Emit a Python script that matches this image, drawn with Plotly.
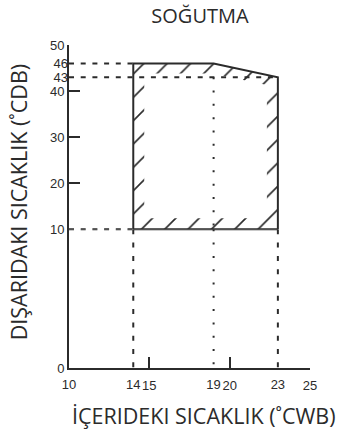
import numpy as np
import plotly.graph_objects as go

# ---------------- data ----------------
envelope_x = [14, 14, 19, 23, 23]          # indoor wet-bulb (°CWB)
envelope_y = [10, 46, 46, 43, 10]          # outdoor dry-bulb (°CDB)
x_range = [10, 25]
y_low_range = [0, 10]
y_high_range = [10, 50]
x_tick_vals = [15, 20, 25]                 # ticked values on x
x_label_vals = [10, 14, 19, 23]            # labelled-only values on x
y_low_labels = [0]
y_tick_vals = [10, 20, 30, 40, 50]
y_label_vals = [43, 46]
dash_h_y = [46, 43, 10]                    # horizontal reference levels
dash_h_x_end = [14, 23, 14]
dash_v_x = [14, 23]                        # vertical dashed refs (0..10)
dot_v_x = 19                               # dotted vertical ref
dot_v_top = 43

title_text = "SOĞUTMA"
x_title = "İÇERIDEKI SICAKLIK (˚CWB)"
y_title = "DIŞARIDAKI SICAKLIK (˚CDB)"

# ---------------- layout geometry ----------------
W, H = 340, 441
L, R, T, B = 68.6, 30, 44.7, 73.3
PW, PH = W - L - R, H - T - B
split = 138.7 / PH
INK = "#2b2b2b"
TITLE_FONT = dict(family="Open Sans, Noto Sans, sans-serif", size=21.5, color=INK)

up_h = PH * (1 - split)
def to_px(x, y):
    return ((x - x_range[0]) / (x_range[1] - x_range[0]) * PW,
            (y_high_range[1] - y) / (y_high_range[1] - y_high_range[0]) * up_h)
def to_data(px, py):
    return (x_range[0] + px / PW * (x_range[1] - x_range[0]),
            y_high_range[1] - py / up_h * (y_high_range[1] - y_high_range[0]))

def inset(pts, t):
    pts = np.array(pts, float)
    n = len(pts)
    c = pts.mean(axis=0)
    lines = []
    for i in range(n):
        a, b = pts[i], pts[(i + 1) % n]
        d = (b - a) / np.linalg.norm(b - a)
        nrm = np.array([-d[1], d[0]])
        if np.dot(c - (a + b) / 2, nrm) < 0:
            nrm = -nrm
        lines.append((a + nrm * t[i], d))
    out = []
    for i in range(n):
        p1, d1 = lines[i - 1]
        p2, d2 = lines[i]
        A = np.array([d1, -d2]).T
        s, _ = np.linalg.solve(A, p2 - p1)
        out.append(p1 + s * d1)
    return out

outer_px = [to_px(x, y) for x, y in zip(envelope_x, envelope_y)]
inner_px = inset(outer_px, [11, 10, 10, 11, 11])
inner = [to_data(*p) for p in inner_px]
ring_x = envelope_x + [envelope_x[0]] + [inner[0][0]] + [p[0] for p in inner[::-1]]
ring_y = envelope_y + [envelope_y[0]] + [inner[0][1]] + [p[1] for p in inner[::-1]]

fig = go.Figure()

# hatched border band
fig.add_trace(go.Scatter(
    x=ring_x, y=ring_y, xaxis="x", yaxis="y2", mode="none", fill="toself",
    fillcolor="rgba(0,0,0,0)",
    fillpattern=dict(shape="/", size=16.5, solidity=0.1, fgcolor=INK,
                     bgcolor="rgba(0,0,0,0)", fillmode="replace"),
    hoverinfo="skip", showlegend=False))

def seg(x, y, yaxis, width, dash=None):
    fig.add_trace(go.Scatter(
        x=x, y=y, xaxis="x", yaxis=yaxis, mode="lines",
        line=dict(color=INK, width=width, dash=dash),
        hoverinfo="skip", showlegend=False))

# dashed horizontal references (the 10-level one sits on the panel seam,
# so it is drawn in both panels to keep its full width)
for yv, xe in zip(dash_h_y, dash_h_x_end):
    seg([x_range[0], xe], [yv, yv], "y2", 2, "5px,6.7px")
    if yv == y_low_range[1]:
        seg([x_range[0], xe], [yv, yv], "y", 2, "5px,6.7px")

# dashed vertical references below the envelope
for xv in dash_v_x:
    seg([xv, xv], [y_low_range[1], y_low_range[0]], "y", 2, "5px,8.3px")

# dotted vertical reference
seg([dot_v_x, dot_v_x], [dot_v_top, y_high_range[0]], "y2", 2, "2px,11.3px")
seg([dot_v_x, dot_v_x], [y_low_range[1], y_low_range[0]], "y", 2, "2px,11.3px")

# envelope outline (+ its bottom edge repeated in the lower panel)
seg(envelope_x + [envelope_x[0]], envelope_y + [envelope_y[0]], "y2", 2)
seg([envelope_x[-1], envelope_x[0]], [envelope_y[-1], envelope_y[0]], "y", 2)

# empty traces so the label-only overlay axes are drawn
fig.add_trace(go.Scatter(x=[], y=[], xaxis="x2", yaxis="y", showlegend=False))
fig.add_trace(go.Scatter(x=[], y=[], xaxis="x", yaxis="y3", showlegend=False))

tick_font = dict(family="Liberation Sans, Arial, sans-serif", size=13, color=INK)
common = dict(showgrid=False, zeroline=False, tickfont=tick_font, fixedrange=True)

fig.update_layout(
    width=W, height=H,
    margin=dict(l=L, r=R, t=T, b=B, pad=0, autoexpand=False),
    paper_bgcolor="white", plot_bgcolor="white",
    showlegend=False,
    title=dict(text=title_text, x=200 / W, xref="container", xanchor="center",
               y=1 - 15.5 / H, yref="container", yanchor="middle",
               font=dict(TITLE_FONT, size=20)),
    xaxis=dict(domain=[0, 1], range=x_range, anchor="y", showline=True,
               linecolor=INK, linewidth=2, ticks="inside", ticklen=11,
               tickwidth=2, tickcolor=INK, tickmode="array", ticklabelstandoff=4,
               tickvals=x_tick_vals, ticktext=[str(v) for v in x_tick_vals], **common),
    xaxis2=dict(range=x_range, overlaying="x", anchor="y", side="bottom",
                showline=False, ticks="", tickmode="array", ticklabelstandoff=7,
                tickvals=x_label_vals, ticktext=[str(v) for v in x_label_vals], **common),
    yaxis=dict(domain=[0, split], range=y_low_range, anchor="x", showline=True,
               linecolor=INK, linewidth=2, ticks="", tickmode="array",
               tickvals=y_low_labels, ticktext=[str(v) for v in y_low_labels], **common),
    yaxis2=dict(domain=[split, 1], range=y_high_range, anchor="x", showline=True,
                linecolor=INK, linewidth=2, ticks="inside", ticklen=11,
                tickwidth=2, tickcolor=INK, tickmode="array",
                tickvals=y_tick_vals, ticktext=[str(v) for v in y_tick_vals], **common),
    yaxis3=dict(range=y_high_range, overlaying="y2", anchor="x", side="left",
                showline=False, ticks="", tickmode="array",
                tickvals=y_label_vals, ticktext=[str(v) for v in y_label_vals], **common),
    annotations=[
        dict(text=x_title, xref="paper", yref="paper",
             x=(204 - L) / PW, y=(H - B - 415) / PH,
             xanchor="center", yanchor="middle", showarrow=False, font=TITLE_FONT),
        dict(text=y_title, xref="paper", yref="paper", textangle=-90,
             x=(18 - L) / PW, y=(H - B - 201.5) / PH,
             xanchor="center", yanchor="middle", showarrow=False, font=TITLE_FONT),
    ],
)

fig.write_html("out.html", config={"displayModeBar": False},
               post_script="document.body.style.margin='0';")
